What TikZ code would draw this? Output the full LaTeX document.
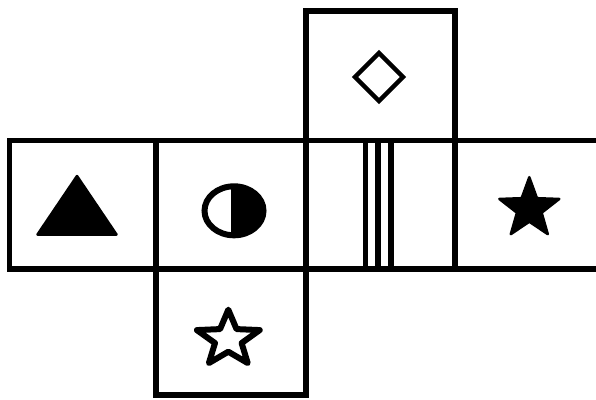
\documentclass[tikz,border=0pt]{standalone}
\usetikzlibrary{calc}
\tikzset{
  frame/.style={draw=black, line width=5.5pt, line join=miter},
  rule/.style={draw=black, line width=5.5pt},
  thinrule/.style={draw=black, line width=5.5pt},
  outlinesym/.style={draw=black, line width=4.5pt, line join=miter},
  solidsym/.style={fill=black, draw=black, line width=2.5pt, line join=round},
}
\newcommand{\mystarpath}[2]{(-90:#1) -- (-54:#2) -- (-18:#1) -- (18:#2) -- (54:#1) -- (90:#2) -- (126:#1) -- (162:#2) -- (198:#1) -- (234:#2) -- cycle}
\begin{document}
\begin{tikzpicture}[x=1pt, y=-1pt]
  \useasboundingbox (0,0) rectangle (596,399);
  % cells
  \path[frame] (9.5,140.5) rectangle (156,269);
  \path[frame] (156,140.5) rectangle (306,269);
  \path[frame] (306,140.5) rectangle (455,269);
  \path[frame] (306,11) rectangle (455,140.5);
  \path[frame] (156,269) rectangle (306,395);
  % open right cell
  \path[rule] (455,140.5) -- (600,140.5);
  \path[rule] (455,269) -- (600,269);
  % triangle
  \path[solidsym] (77,176) -- (116.5,234.5) -- (37.5,234.5) -- cycle;
  % half filled circle
  \begin{scope}
    \clip (231,170) rectangle (280,250);
    \fill[black] (234,210.8) ellipse [x radius=29.5, y radius=24.5];
  \end{scope}
  \draw[black, line width=6pt] (234,210.8) ellipse [x radius=29.5, y radius=24.5];
  % diamond
  \path[outlinesym] (379,53) -- (403,77) -- (379,101) -- (355,77) -- cycle;
  % three vertical lines
  \path[thinrule] (365.3,140.5) -- (365.3,269);
  \path[thinrule] (377.8,140.5) -- (377.8,269);
  \path[thinrule] (391.2,140.5) -- (391.2,269);
  % filled star
  \begin{scope}[shift={(529.3,208.7)}]
    \path[solidsym] \mystarpath{31.5}{13};
  \end{scope}
  % outline star
  \begin{scope}[shift={(228.3,339.2)}, xscale=1.12]
    \draw[black, line width=6pt, line join=round] \mystarpath{29.5}{12.5};
  \end{scope}
\end{tikzpicture}
\end{document}
